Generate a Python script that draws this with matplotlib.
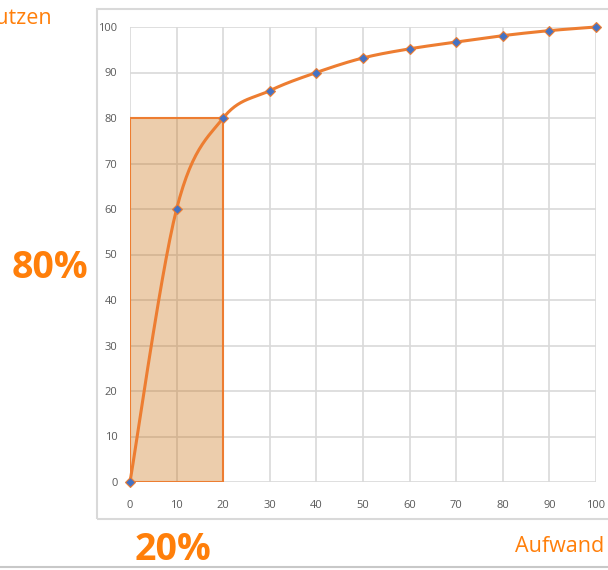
import numpy as np
import matplotlib.pyplot as plt
from matplotlib.patches import Rectangle
from matplotlib.lines import Line2D

plt.rcParams['font.family'] = ['Open Sans', 'DejaVu Sans']

aufwand = [0, 10, 20, 30, 40, 50, 60, 70, 80, 90, 100]
nutzen = [0, 60, 80, 86, 90, 93.2, 95.2, 96.7, 98.1, 99.2, 100]
box_x = 20
box_y = 80

orange = '#ED7D31'
text_orange = '#FF7F0A'


def smooth(xs, ys, n=30):
    # Catmull-Rom style smoothing like the office chart "smoothed line"
    px = np.concatenate([[xs[0]], xs, [xs[-1]]])
    py = np.concatenate([[ys[0]], ys, [ys[-1]]])
    outx, outy = [], []
    t = np.linspace(0, 1, n)
    for i in range(1, len(px) - 2):
        p0, p1, p2, p3 = (np.array([px[j], py[j]]) for j in range(i - 1, i + 3))
        c1 = p1 + (p2 - p0) / 6
        c2 = p2 - (p3 - p1) / 6
        b = ((1 - t) ** 3)[:, None] * p1 + (3 * (1 - t) ** 2 * t)[:, None] * c1 \
            + (3 * (1 - t) * t ** 2)[:, None] * c2 + (t ** 3)[:, None] * p2
        outx.extend(b[:, 0])
        outy.extend(b[:, 1])
    return outx, outy


fig = plt.figure(figsize=(6.08, 5.7), dpi=100)

# chart frame and bottom rule
fig.patches.append(Rectangle((97 / 608, 1 - 519 / 570), 1, (519 - 9) / 570,
                             transform=fig.transFigure, fill=False,
                             ec='#D9D9D9', lw=1.5, zorder=0))
fig.lines.append(Line2D([0, 1], [1 - 567 / 570] * 2, transform=fig.transFigure,
                        color='#C8C8C8', lw=1.5))

ax = fig.add_axes([130 / 608, 1 - 482 / 570, 466 / 608, 455 / 570])
ax.set_xlim(0, 100)
ax.set_ylim(0, 100)
ax.set_xticks(range(0, 101, 10))
ax.set_yticks(range(0, 101, 10))
ax.grid(True, color='#D9D9D9', lw=1.2)
ax.set_axisbelow(True)
for s in ax.spines.values():
    s.set_visible(False)
ax.tick_params(length=0, labelsize=8, colors='#595959')
ax.tick_params(axis='x', pad=13)
ax.tick_params(axis='y', pad=9)

ax.add_patch(Rectangle((0, 0), box_x, box_y, fc=(201 / 255, 112 / 255, 18 / 255, 0.35),
                       ec=orange, lw=1.5, zorder=2))

sx, sy = smooth(np.array(aufwand, float), np.array(nutzen, float))
ax.plot(sx, sy, color=orange, lw=2.2, zorder=3, clip_on=False)
ax.plot(aufwand, nutzen, ls='none', marker='D', ms=5, mfc='#4472C4',
        mec=orange, mew=0.8, zorder=4, clip_on=False)

fig.text(52 / 608, 1 - 19 / 570, 'Nutzen', ha='right', va='center',
         color=text_orange, fontsize=15.5)
fig.text(604 / 608, 1 - 546 / 570, 'Aufwand', ha='right', va='center',
         color=text_orange, fontsize=15.5)
fig.text(50 / 608, 1 - 268 / 570, '80%', ha='center', va='center',
         color=text_orange, fontsize=27, fontweight='bold')
fig.text(173 / 608, 1 - 550 / 570, '20%', ha='center', va='center',
         color=text_orange, fontsize=27, fontweight='bold')

fig.savefig('out.png', dpi=100)
